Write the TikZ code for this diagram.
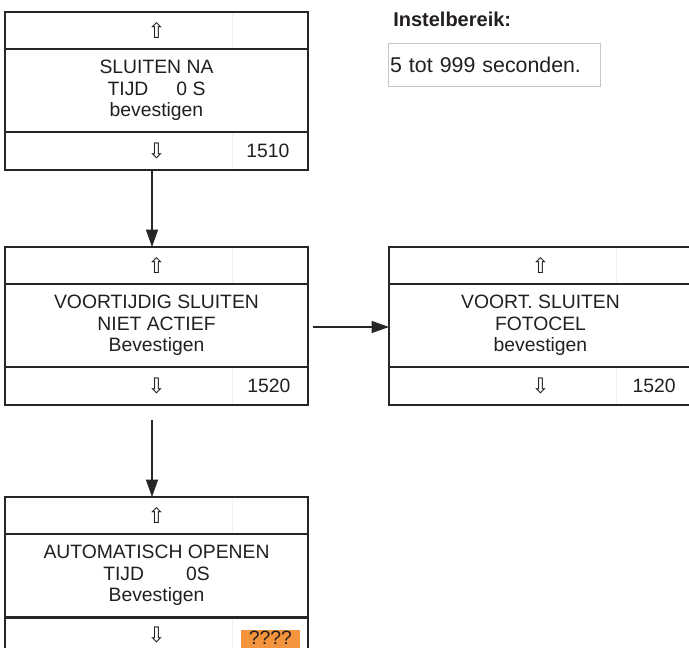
\documentclass[tikz,border=0pt]{standalone}
\usepackage{fontspec}
\setmainfont{Liberation Sans}
\newfontfamily\dvsansfam{DejaVu Sans}
\usetikzlibrary{arrows.meta,calc}
\definecolor{linecol}{HTML}{262626}
\definecolor{txtcol}{HTML}{231F20}
\definecolor{orangecol}{HTML}{F4943C}
\newcommand\arrsym{\dvsansfam\fontsize{16}{16}\selectfont}
\begin{document}
\begin{tikzpicture}[x=0.75pt,y=-0.75pt,
  every node/.style={text=txtcol},
  rowbase/.style={draw=linecol, line width=1.4pt, outer sep=0pt, inner sep=0pt,
    minimum width=227.25pt, anchor=north west,
    font=\fontsize{14.5}{16}\selectfont, align=center},
  toprow/.style={rowbase, minimum height=27.75pt},
  midrow/.style={rowbase, minimum height=62.25pt},
  botrow/.style={rowbase, minimum height=28.5pt},
  lbl/.style={font=\fontsize{14.5}{16}\selectfont, inner sep=0pt},
  faint/.style={draw=gray!12, line width=0.4pt},
  arr/.style={draw=linecol, line width=0.8pt, -{Triangle[length=13pt,width=9pt]}}
]
\clip (0,0) rectangle (689,648);
\fill[white] (0,0) rectangle (689,648);

% faint dividers
\foreach \bx/\by in {5/12, 5/247, 389/247, 5/497}{
  \draw[faint] ($(\bx,\by)+(227,1)$) -- ++(0,35);
  \draw[faint] ($(\bx,\by)+(227,121)$) -- ++(0,36);
}

% ---------- box 1 ----------
\node[toprow] (b1t) at (5,12) {\arrsym ⇧};
\node[midrow] (b1m) at (5,49) {SLUITEN NA\\TIJD\hspace{21pt}0 S\\bevestigen};
\node[botrow] (b1b) at (5,132) {};
\node[lbl] (b1d) at (b1b.center) {\arrsym ⇩};
\node[lbl] (b1n) at ($(b1b.west)+(263,0)$) {1510};

% ---------- box 2 ----------
\node[toprow] (b2t) at (5,247) {\arrsym ⇧};
\node[midrow] (b2m) at (5,284) {VOORTIJDIG SLUITEN\\NIET ACTIEF\\Bevestigen};
\node[botrow] (b2b) at (5,367) {};
\node[lbl] (b2d) at (b2b.center) {\arrsym ⇩};
\node[lbl] (b2n) at ($(b2b.west)+(264,0)$) {1520};

% ---------- box 3 ----------
\node[toprow] (b3t) at (389,247) {\arrsym ⇧};
\node[midrow] (b3m) at (389,284) {VOORT. SLUITEN\\FOTOCEL\\bevestigen};
\node[botrow] (b3b) at (389,367) {};
\node[lbl] (b3d) at (b3b.center) {\arrsym ⇩};
\node[lbl] (b3n) at ($(b3b.west)+(265,0)$) {1520};

% ---------- box 4 ----------
\node[toprow] (b4t) at (5,497) {\arrsym ⇧};
\node[midrow] (b4m) at (5,534) {AUTOMATISCH OPENEN\\TIJD\hspace{31.5pt}0S\\Bevestigen};
\node[botrow] (b4b) at (5,618) {};
\node[lbl] (b4d) at ($(b4b.center)+(0,-2)$) {\arrsym ⇩};
\fill[orangecol] (241,630) rectangle (300,656);
\node[lbl] (b4n) at (270.5,637.5) {????};

% ---------- range info ----------
\node[anchor=base west, inner sep=0pt, font=\bfseries\fontsize{15}{17}\selectfont] (title) at (393,27) {Instelbereik:};
\node[draw=gray!45, line width=0.6pt, anchor=north west, outer sep=0pt,
  inner xsep=1.5pt, inner ysep=0pt, text width=156pt, minimum height=32.25pt,
  align=left, font=\fontsize{16}{18}\selectfont] (range) at (388,43) {5 tot 999 seconden.};

% ---------- connectors ----------
\coordinate (a1s) at ($(b1b.south)+(-4.5,0)$);
\draw[arr] (a1s) -- (a1s |- b2t.north);
\coordinate (a2s) at (313,327);
\draw[arr] (a2s) -- (b3m.west |- a2s);
\coordinate (a3s) at (152,420);
\draw[arr] (a3s) -- (a3s |- b4t.north);
\end{tikzpicture}
\end{document}
